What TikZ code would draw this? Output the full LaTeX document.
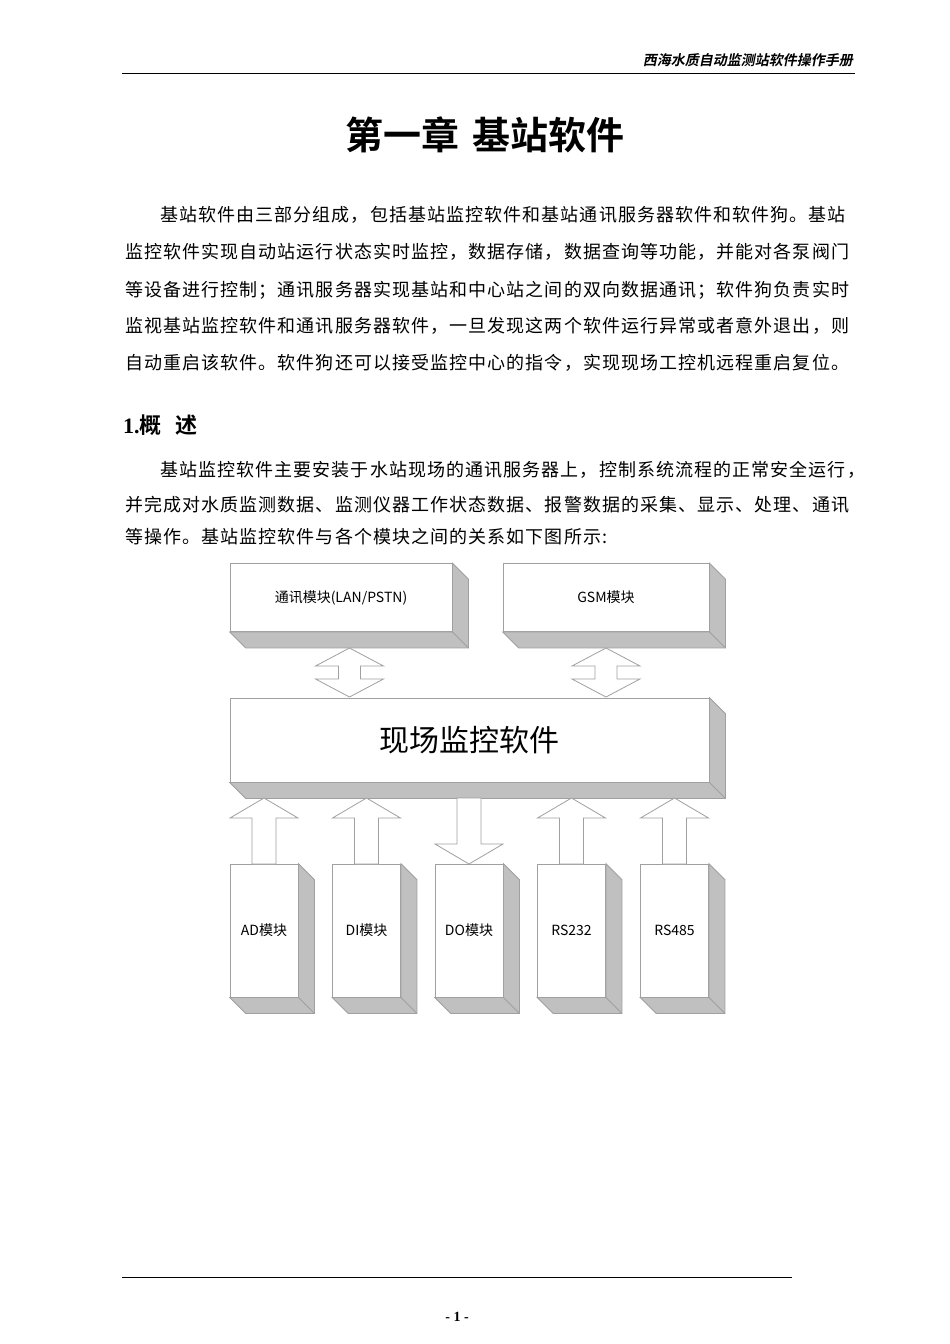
\documentclass[tikz,border=0pt]{standalone}
\usepackage{fontspec}
\setmainfont{Noto Sans CJK SC}[BoldFont={Noto Sans CJK SC Bold}]
\newfontfamily\hdrfont{Noto Sans CJK SC Bold}[FakeSlant=0.2]
\newfontfamily\bodyfont{Noto Sans CJK SC}[LetterSpace=6]
\newfontfamily\tnr{Liberation Serif}
\definecolor{sidegray}{HTML}{C0C0C0}
\definecolor{edgegray}{HTML}{A0A0A0}
\tikzset{
  fbox/.style={draw=edgegray,fill=white,line width=0.8pt,inner sep=0pt,font=\fontsize{14}{14}\selectfont},
  side/.style={fill=sidegray,draw=edgegray,line width=0.8pt},
  barr/.style={draw=edgegray,fill=white,line width=0.8pt,line join=miter},
  body/.style={anchor=west,inner sep=0pt,font=\bodyfont\fontsize{18}{18}\selectfont},
}
\newcommand\threed[1]{%
  \draw[side] (#1.north east) -- ++(16,16) -- ([shift={(16,16)}]#1.south east) -- ([shift={(16,16)}]#1.south west) -- (#1.south west) -- (#1.south east) -- cycle;
  \draw[edgegray,line width=0.8pt] (#1.south east) -- ++(16,16);}
\newcommand\uparr[3]{\draw[barr] (#1,#2) -- (#1+34,#2+20) -- (#1+12,#2+20) -- (#1+12,#3) -- (#1-12,#3) -- (#1-12,#2+20) -- (#1-34,#2+20) -- cycle;}
\newcommand\dnarr[3]{\draw[barr] (#1,#2) -- (#1+34,#2-20) -- (#1+12,#2-20) -- (#1+12,#3) -- (#1-12,#3) -- (#1-12,#2-20) -- (#1-34,#2-20) -- cycle;}
\newcommand\dblarr[3]{\draw[barr] (#1,#2) -- (#1+34,#2+18) -- (#1+11,#2+18) -- (#1+11,#2+31) -- (#1+34,#2+31) -- (#1,#3) -- (#1-34,#2+31) -- (#1-11,#2+31) -- (#1-11,#2+18) -- (#1-34,#2+18) -- cycle;}
\begin{document}
\begin{tikzpicture}[x=1pt,y=-1pt]
\useasboundingbox[fill=white] (0,0) rectangle (950,1344);
\node[anchor=east,inner sep=0pt,font=\hdrfont\fontsize{14}{14}\selectfont] (hdr) at (853,60) {西海水质自动监测站软件操作手册};
\draw[line width=0.8pt] (122,73) -- (855,73);
\node[font=\bfseries\fontsize{38}{38}\selectfont,inner sep=0pt] (title) at (485,135) {第一章\hspace{14pt}基站软件};
\node[body] (p1) at (160,215) {基站软件由三部分组成，包括基站监控软件和基站通讯服务器软件和软件狗。基站};
\node[body] (p2) at (125,252) {监控软件实现自动站运行状态实时监控，数据存储，数据查询等功能，并能对各泵阀门};
\node[body] (p3) at (125,290) {等设备进行控制；通讯服务器实现基站和中心站之间的双向数据通讯；软件狗负责实时};
\node[body] (p4) at (125,326) {监视基站监控软件和通讯服务器软件，一旦发现这两个软件运行异常或者意外退出，则};
\node[body] (p5) at (125,363) {自动重启该软件。软件狗还可以接受监控中心的指令，实现现场工控机远程重启复位。};
\node[anchor=west,inner sep=0pt,font=\bfseries\fontsize{22}{22}\selectfont] (sec) at (123,425) {{\tnr 1.}概\hspace{14pt}述};
\node[body] (q1) at (160,470) {基站监控软件主要安装于水站现场的通讯服务器上，控制系统流程的正常安全运行，};
\node[body] (q2) at (125,505) {并完成对水质监测数据、监测仪器工作状态数据、报警数据的采集、显示、处理、通讯};
\node[body] (q3) at (125,537) {等操作。基站监控软件与各个模块之间的关系如下图所示:};
\node[fbox,minimum width=222,minimum height=68] (lan) at (341,597.5) {通讯模块(LAN/PSTN)};
\threed{lan}
\node[fbox,minimum width=206,minimum height=68] (gsm) at (606,597.5) {GSM模块};
\threed{gsm}
\node[fbox,minimum width=479,minimum height=84,font=\fontsize{30}{30}\selectfont] (main) at (469.5,740) {现场监控软件};
\threed{main}
\dblarr{349.5}{648}{697}
\dblarr{606}{648}{697}
\foreach \n/\cx/\t in {ad/264/AD模块,di/366.5/DI模块,do/469/DO模块,r232/571.5/RS232,r485/674.5/RS485}{
  \node[fbox,minimum width=68,minimum height=133] (\n) at (\cx,930.5) {\t};
  \threed{\n}
}
\uparr{264}{798}{864}
\uparr{366.5}{798}{864}
\dnarr{469}{864}{798}
\uparr{571.5}{798}{864}
\uparr{674.5}{798}{864}
\draw[line width=0.8pt] (122,1277) -- (792,1277);
\node[font=\tnr\bfseries\fontsize{14}{14}\selectfont] (pg) at (457,1317) {- 1 -};
\end{tikzpicture}
\end{document}
